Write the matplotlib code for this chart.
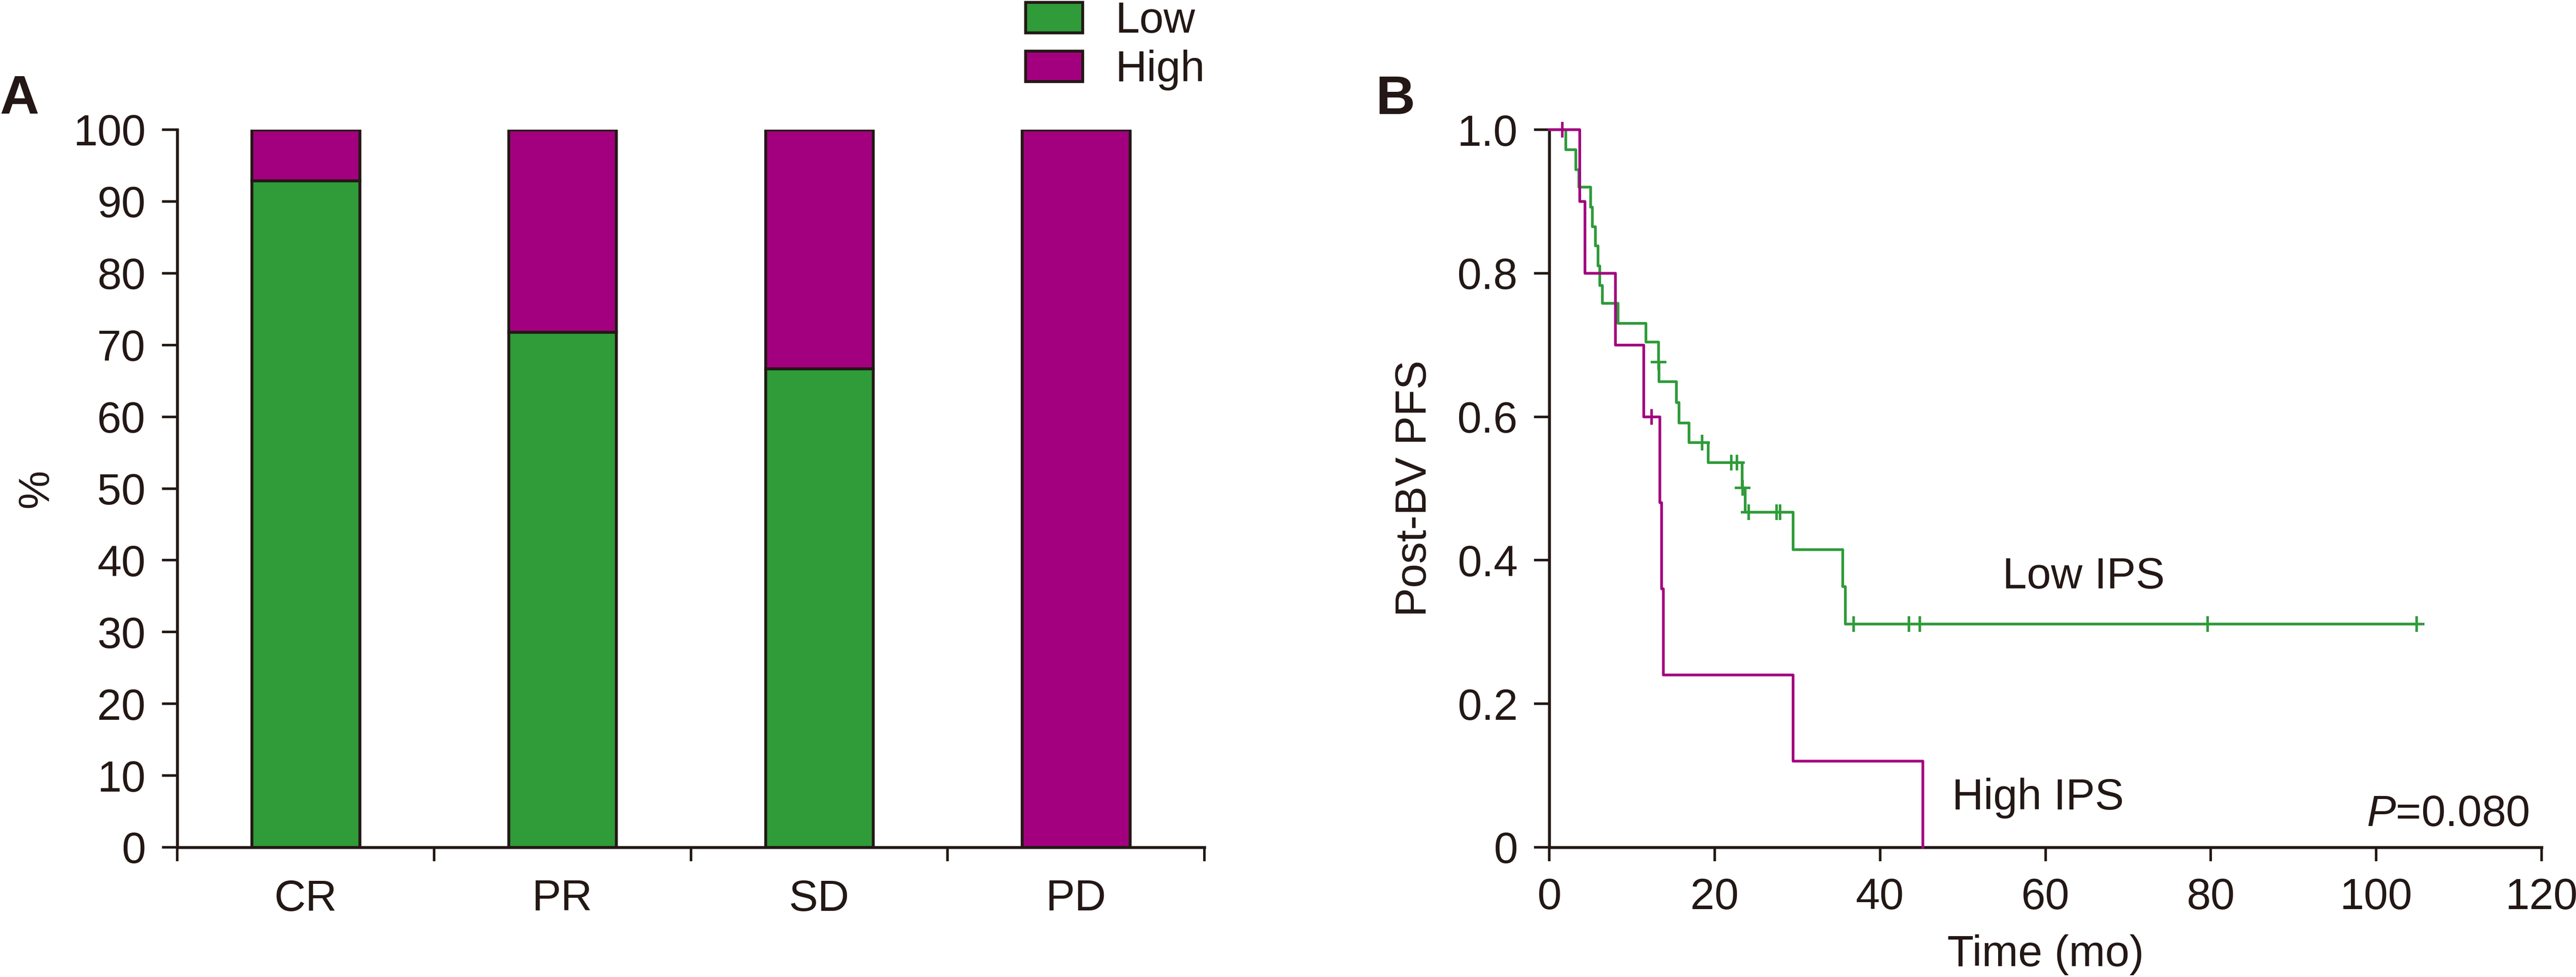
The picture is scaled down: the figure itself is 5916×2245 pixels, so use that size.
import matplotlib
matplotlib.use("Agg")
import matplotlib.pyplot as plt
from matplotlib.patches import Patch

# ---------------- data ----------------
categories = ["CR", "PR", "SD", "PD"]
low_pct = [92.9, 71.8, 66.7, 0.0]
high_pct = [7.1, 28.2, 33.3, 100.0]

# Kaplan-Meier, Low IPS (step times and survival after each step)
low_t = [0, 2.0, 3.2, 3.6, 5.0, 5.2, 5.6, 5.9, 6.1, 6.4, 8.3, 11.7, 13.2, 13.25,
         15.4, 15.7, 16.9, 19.2, 23.3, 23.7, 29.5, 35.5, 35.8]
low_s = [1.0, 0.972, 0.944, 0.920, 0.892, 0.865, 0.838, 0.810, 0.783, 0.758, 0.730,
         0.704, 0.676, 0.649, 0.620, 0.591, 0.564, 0.536, 0.501, 0.467, 0.415, 0.363, 0.311]
low_end = 104.9
low_cens_t = [13.2, 18.5, 22.0, 22.7, 23.4, 24.1, 27.5, 27.9, 36.8, 43.5, 44.8, 79.6, 104.9]
low_cens_s = [0.676, 0.564, 0.536, 0.536, 0.501, 0.467, 0.467, 0.467, 0.311, 0.311,
              0.311, 0.311, 0.311]

# Kaplan-Meier, High IPS
high_t = [0, 3.7, 4.3, 8.0, 11.4, 13.4, 13.6, 13.8, 29.5, 45.2]
high_s = [1.0, 0.9, 0.8, 0.7, 0.6, 0.48, 0.36, 0.24, 0.12, 0.0]
high_cens_t = [1.6, 12.4]
high_cens_s = [1.0, 0.6]

x_ticks_b = [0, 20, 40, 60, 80, 100, 120]
y_ticks_b = [0, 0.2, 0.4, 0.6, 0.8, 1.0]
y_ticklabels_b = ["0", "0.2", "0.4", "0.6", "0.8", "1.0"]
y_ticks_a = list(range(0, 101, 10))

# ---------------- style ----------------
GREEN = "#2F9B39"
MAGENTA = "#A3007F"
BLACK = "#231815"
FS = 24

plt.rcParams["font.family"] = ["Liberation Sans", "DejaVu Sans"]
plt.rcParams["mathtext.fontset"] = "custom"
plt.rcParams["mathtext.rm"] = "Liberation Sans"
plt.rcParams["mathtext.it"] = "Liberation Sans:italic"
plt.rcParams["text.color"] = BLACK
plt.rcParams["axes.labelcolor"] = BLACK

W, H = 5916, 2245
fig = plt.figure(figsize=(W / 300, H / 300), dpi=300)

ax_a = fig.add_axes([407 / W, 1 - 1947 / H, (2766 - 407) / W, (1947 - 298) / H])
ax_b = fig.add_axes([3558 / W, 1 - 1947 / H, (5837 - 3558) / W, (1947 - 298) / H])

for ax in (ax_a, ax_b):
    for s in ("top", "right"):
        ax.spines[s].set_visible(False)
    for s in ("left", "bottom"):
        ax.spines[s].set_linewidth(1.6)
        ax.spines[s].set_color(BLACK)
    ax.tick_params(which="both", direction="out", length=8.4, width=1.4,
                   color=BLACK, labelcolor=BLACK, labelsize=FS, pad=9)

# ---------------- panel A ----------------
xpos = list(range(len(categories)))
ax_a.bar(xpos, low_pct, width=0.42, color=GREEN, edgecolor=BLACK, linewidth=1.6,
         label="Low", zorder=2)
ax_a.bar(xpos, high_pct, width=0.42, bottom=low_pct, color=MAGENTA, edgecolor=BLACK,
         linewidth=1.6, label="High", zorder=2)
ax_a.set_xlim(-0.5, 3.5)
ax_a.set_ylim(0, 100)
ax_a.set_yticks(y_ticks_a)
ax_a.set_xticks(xpos)
ax_a.set_xticklabels(categories)
ax_a.set_xticks([i - 0.5 for i in range(len(categories) + 1)], minor=True)
ax_a.tick_params(axis="x", which="major", length=0, pad=9 + 8.4)
ax_a.tick_params(axis="x", which="minor", length=7.6)
ax_a.set_ylabel("%", fontsize=FS)
ax_a.yaxis.set_label_coords(-0.126, 0.5)
ax_a.yaxis.label.set_verticalalignment("baseline")

handles = [Patch(facecolor=GREEN, edgecolor=BLACK, linewidth=1.6, label="Low"),
           Patch(facecolor=MAGENTA, edgecolor=BLACK, linewidth=1.6, label="High")]
fig.legend(handles=handles, loc="upper left", bbox_to_anchor=(2355 / W, 1 - 2 / H),
           frameon=False, fontsize=FS, borderpad=0, borderaxespad=0,
           handlelength=1.31, handleheight=0.71, handletextpad=0.76,
           labelspacing=0.18)

# ---------------- panel B ----------------
ax_b.step(low_t + [low_end], low_s + [low_s[-1]], where="post", color=GREEN,
          linewidth=1.5, clip_on=False, zorder=3)
ax_b.plot(low_cens_t, low_cens_s, linestyle="none", marker="+", markersize=8.6,
          markeredgewidth=1.4, color=GREEN, clip_on=False, zorder=3)
ax_b.step(high_t, high_s, where="post", color=MAGENTA, linewidth=1.5,
          clip_on=False, zorder=4)
ax_b.plot(high_cens_t, high_cens_s, linestyle="none", marker="+", markersize=8.6,
          markeredgewidth=1.4, color=MAGENTA, clip_on=False, zorder=4)

ax_b.set_xlim(0, 120)
ax_b.set_ylim(0, 1.0)
ax_b.set_xticks(x_ticks_b)
ax_b.set_xticklabels([str(v) for v in x_ticks_b])
ax_b.set_yticks(y_ticks_b)
ax_b.set_yticklabels(y_ticklabels_b)
ax_b.tick_params(axis="x", length=7.6)
ax_b.set_xlabel("Time (mo)", fontsize=FS)
ax_b.xaxis.set_label_coords(0.5, -0.1656)
ax_b.xaxis.label.set_verticalalignment("baseline")
ax_b.set_ylabel("Post-BV PFS", fontsize=FS)
ax_b.yaxis.set_label_coords(-0.1242, 0.5)
ax_b.yaxis.label.set_verticalalignment("baseline")

ax_b.text(54.8, 0.361, "Low IPS", fontsize=FS, ha="left", va="baseline")
ax_b.text(48.7, 0.053, "High IPS", fontsize=FS, ha="left", va="baseline")
ax_b.text(118.5, 0.030, r"$\mathit{P}$=0.080", fontsize=FS, ha="right", va="baseline")

# panel letters
fig.text(0.0, 1 - 261 / H, "A", fontsize=30, fontweight="bold", ha="left", va="baseline")
fig.text(3160 / W, 1 - 262 / H, "B", fontsize=30, fontweight="bold", ha="left", va="baseline")

fig.savefig("out.png", dpi=300)
